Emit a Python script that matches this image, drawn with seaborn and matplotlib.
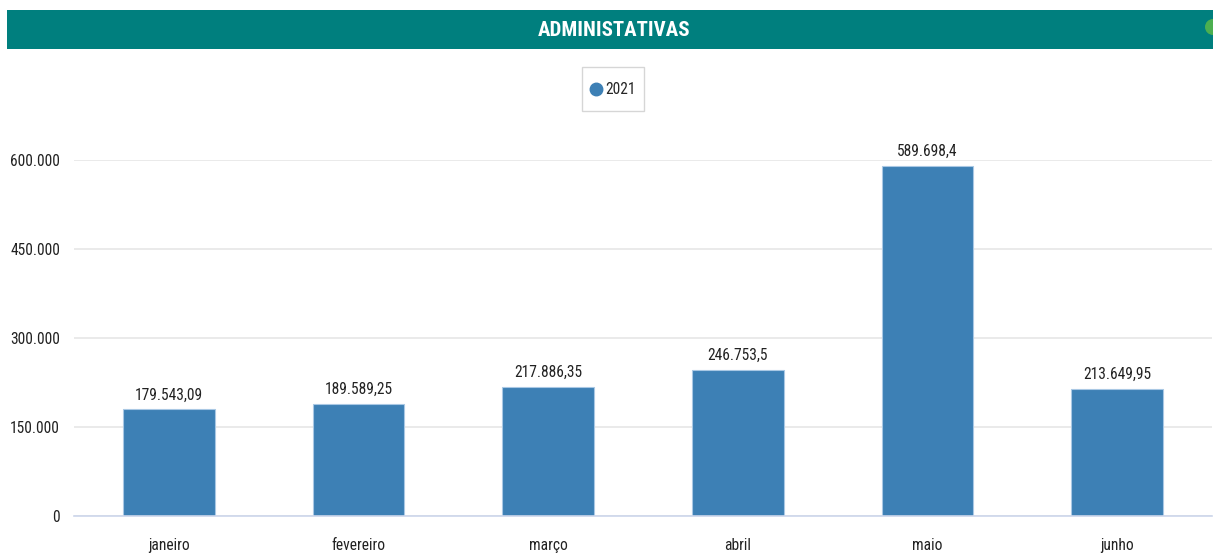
import matplotlib
matplotlib.use("Agg")
import matplotlib.pyplot as plt
import seaborn as sns
import pandas as pd
from matplotlib.patches import Rectangle, Ellipse
from matplotlib.lines import Line2D
from matplotlib.ticker import FuncFormatter
from matplotlib import font_manager

months = ["janeiro", "fevereiro", "março", "abril", "maio", "junho"]
values = [179543.09, 189589.25, 217886.35, 246753.5, 589698.4, 213649.95]
series_name = "2021"
title = "ADMINISTATIVAS"
yticks = [0, 150000, 300000, 450000, 600000]

sns.set_theme(style="white")
fonts = font_manager.fontManager.ttflist
names = {f.name for f in fonts}
cond = None
for cand in ["Roboto Condensed", "Liberation Sans Narrow", "Open Sans Condensed"]:
    if cand in names:
        cond = cand
        break
if cond:
    plt.rcParams["font.family"] = [cond, "DejaVu Sans"]
    scale = 1.0
else:
    plt.rcParams["font.family"] = ["Liberation Sans", "DejaVu Sans"]
    scale = 0.82

def br(v, dec=2):
    s = f"{v:,.{dec}f}"
    if dec:
        s = s.rstrip("0").rstrip(".")
    return s.replace(",", "X").replace(".", ",").replace("X", ".")

df = pd.DataFrame({"mes": months, "valor": values, "ano": series_name})

fig = plt.figure(figsize=(12.13, 5.55), dpi=100)
ax = fig.add_axes([74/1213, 39/555, 1138/1213, 356/555])

bar_color = "#3d80b5"
sns.barplot(data=df, x="mes", y="valor", color=bar_color, width=0.485,
            ax=ax, saturation=1, edgecolor="#a9c8e4", linewidth=0.8)

fs = 11.2 * scale
ax.set_ylim(0, 600000)
ax.set_xlim(-0.5, len(months) - 0.5)
ax.set_yticks(yticks)
ax.yaxis.set_major_formatter(FuncFormatter(lambda v, p: br(v, 0)))
ax.grid(axis="y", color="#e6e6e6", linewidth=1.2)
ax.set_axisbelow(True)
for s in ["top", "right", "left"]:
    ax.spines[s].set_visible(False)
ax.spines["bottom"].set_color("#ccd6eb")
ax.spines["bottom"].set_linewidth(1.2)
ax.set_xlabel("")
ax.set_ylabel("")
ax.tick_params(axis="x", length=0, pad=16, labelsize=fs, labelcolor="#222222")
ax.tick_params(axis="y", length=0, pad=10, labelsize=fs, labelcolor="#222222")

for i, v in enumerate(values):
    ax.annotate(br(v), (i, v), xytext=(0, 5), textcoords="offset points",
                ha="center", va="bottom", fontsize=fs, color="#222222",
                annotation_clip=False)

# title bar
fig.add_artist(Rectangle((7/1213, (555-49)/555), 1 - 7/1213, 39/555,
                         transform=fig.transFigure, facecolor="#007f7e",
                         edgecolor="none"))
fig.text(614/1213, (555-31)/555, title, color="white", fontsize=15 * scale,
         fontweight="bold", ha="center", va="center")
fig.add_artist(Ellipse((1213/1213, (555-27)/555), 16/1213, 16/555,
                       transform=fig.transFigure, facecolor="#4caf50",
                       edgecolor="none"))

handle = Line2D([], [], marker="o", linestyle="none", markersize=9,
                markerfacecolor=bar_color, markeredgecolor=bar_color)
leg = fig.legend([handle], [series_name], loc="center",
                 bbox_to_anchor=(613/1213, (555-89)/555), frameon=True,
                 fontsize=fs, handletextpad=0.2, borderpad=0.5,
                 handlelength=0.8, handleheight=2.4, fancybox=False)
leg.get_frame().set_edgecolor("#cccccc")
leg.get_frame().set_linewidth(1.0)
for h in leg.legend_handles:
    yd = h.get_ydata()
    h.set_ydata([yy - 3.5 for yy in yd])

fig.savefig("out.png", dpi=100)
